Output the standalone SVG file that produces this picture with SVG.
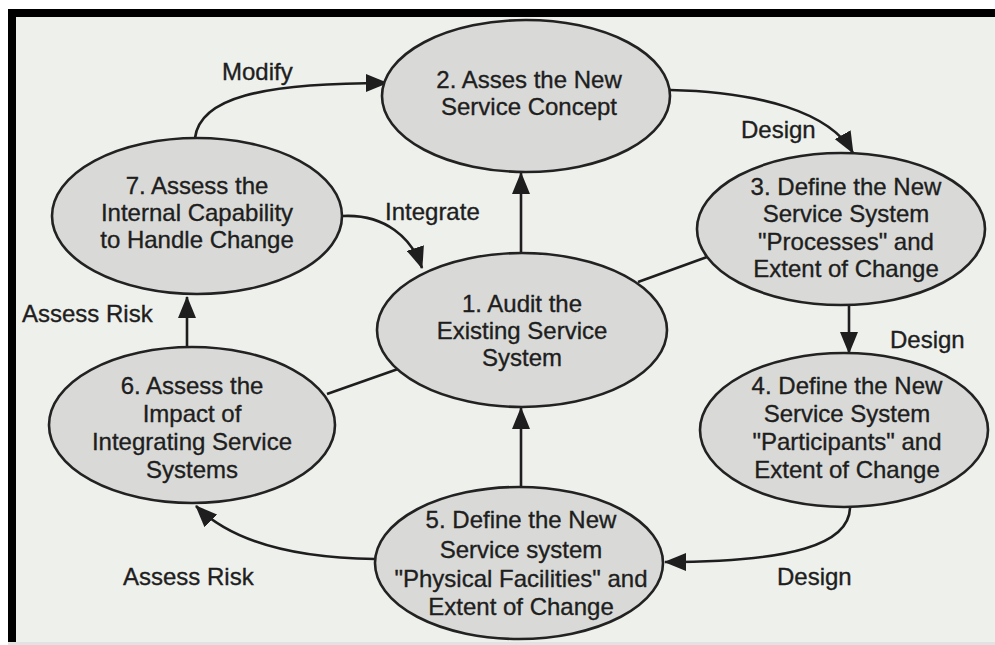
<svg xmlns="http://www.w3.org/2000/svg" width="995" height="645" viewBox="0 0 995 645">
<defs>
<style>
.node ellipse{fill:#d9dad7;stroke:#222;stroke-width:2.6}
.node text{font-family:"Liberation Sans",Arial,sans-serif;font-size:24px;fill:#1e1e1e;stroke:#1e1e1e;stroke-width:0.35;text-anchor:middle}
.lbl{font-family:"Liberation Sans",Arial,sans-serif;font-size:24px;fill:#1e1e1e;stroke:#1e1e1e;stroke-width:0.35}
.conn{fill:none;stroke:#1e1e1e;stroke-width:2.6}
</style>
<marker id="ah" viewBox="0 0 22 18" refX="21" refY="9" markerWidth="22" markerHeight="18" markerUnits="userSpaceOnUse" orient="auto">
<path d="M0,0 L22,9 L0,18 z" fill="#1e1e1e"/>
</marker>
</defs>
<rect x="0" y="0" width="995" height="645" fill="#ffffff"/>
<rect x="8" y="9" width="987" height="634" fill="#eef0ec"/>
<rect x="8" y="9" width="987" height="8" fill="#000"/>
<rect x="8" y="9" width="8" height="636" fill="#000"/>
<rect x="8" y="642" width="987" height="3" fill="#e2e2e2"/>

<g id="connectors">
<path class="conn" d="M195,138 C200,98 260,83 387,83" marker-end="url(#ah)"/>
<path class="conn" d="M670,90 C760,92 830,112 853,153" marker-end="url(#ah)"/>
<path class="conn" d="M849,305 L849,353" marker-end="url(#ah)"/>
<path class="conn" d="M850,505 C852,545 790,562 665,562" marker-end="url(#ah)"/>
<path class="conn" d="M521,487 L521,408" marker-end="url(#ah)"/>
<path class="conn" d="M521,253 L521,173" marker-end="url(#ah)"/>
<path class="conn" d="M375,559 C290,558 230,540 196,506" marker-end="url(#ah)"/>
<path class="conn" d="M187,347 L187,297" marker-end="url(#ah)"/>
<path class="conn" d="M343,216 C385,214 412,238 422,268" marker-end="url(#ah)"/>
<path class="conn" d="M638,282 L707,257"/>
<path class="conn" d="M327,394 L398,369"/>
<text class="lbl" x="222" y="80">Modify</text>
<text class="lbl" x="741" y="138">Design</text>
<text class="lbl" x="890" y="348">Design</text>
<text class="lbl" x="777" y="585">Design</text>
<text class="lbl" x="123" y="585">Assess Risk</text>
<text class="lbl" x="22" y="322">Assess Risk</text>
<text class="lbl" x="385" y="220">Integrate</text>
</g>

<g id="node2" class="node">
<ellipse cx="526" cy="96" rx="144" ry="76"/>
<text x="529" y="88">2. Asses the New</text>
<text x="529" y="115">Service Concept</text>
</g>
<g id="node7" class="node">
<ellipse cx="197" cy="216" rx="145" ry="78"/>
<text x="197" y="194">7. Assess the</text>
<text x="197" y="221">Internal Capability</text>
<text x="197" y="248">to Handle Change</text>
</g>
<g id="node3" class="node">
<ellipse cx="841" cy="229" rx="144" ry="76"/>
<text x="846" y="195">3. Define the New</text>
<text x="846" y="222">Service System</text>
<text x="846" y="250">&quot;Processes&quot; and</text>
<text x="846" y="277">Extent of Change</text>
</g>
<g id="node1" class="node">
<ellipse cx="522" cy="330" rx="145" ry="77"/>
<text x="522" y="312">1. Audit the</text>
<text x="522" y="339">Existing Service</text>
<text x="522" y="366">System</text>
</g>
<g id="node6" class="node">
<ellipse cx="192" cy="425" rx="143" ry="78"/>
<text x="192" y="394">6. Assess the</text>
<text x="192" y="422">Impact of</text>
<text x="192" y="450">Integrating Service</text>
<text x="192" y="478">Systems</text>
</g>
<g id="node4" class="node">
<ellipse cx="844" cy="430" rx="144" ry="77"/>
<text x="847" y="394">4. Define the New</text>
<text x="847" y="422">Service System</text>
<text x="847" y="450">&quot;Participants&quot; and</text>
<text x="847" y="478">Extent of Change</text>
</g>
<g id="node5" class="node">
<ellipse cx="519" cy="563" rx="144" ry="76"/>
<text x="521" y="528">5. Define the New</text>
<text x="521" y="558">Service system</text>
<text x="521" y="587">&quot;Physical Facilities&quot; and</text>
<text x="521" y="615">Extent of Change</text>
</g>
</svg>
